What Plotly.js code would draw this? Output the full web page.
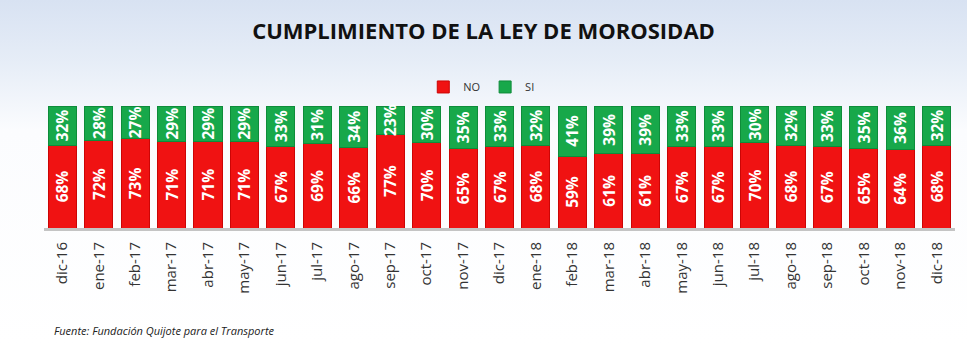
<!DOCTYPE html>
<html><head><meta charset="utf-8">
<script src="https://cdn.plot.ly/plotly-3.0.1.min.js"></script>
<style>
html,body{margin:0;padding:0;}
body{width:967px;height:344px;background:linear-gradient(to bottom,#d8e2f2 0%,#e6edf7 18%,#fbfcfe 38%,#ffffff 100%);}
#chart{width:967px;height:344px;}
</style></head><body>
<div id="chart"></div>
<script>
const months = ["dic-16","ene-17","feb-17","mar-17","abr-17","may-17","jun-17","jul-17","ago-17","sep-17","oct-17","nov-17","dic-17","ene-18","feb-18","mar-18","abr-18","may-18","jun-18","jul-18","ago-18","sep-18","oct-18","nov-18","dic-18"];
const noVals = [68,72,73,71,71,71,67,69,66,77,70,65,67,68,59,61,61,67,67,70,68,67,65,64,68];
const siVals = [32,28,27,29,29,29,33,31,34,23,30,35,33,32,41,39,39,33,33,30,32,33,35,36,32];

const txtFont = {family:"Open Sans, DejaVu Sans, sans-serif", size:15.5, color:"#ffffff", weight:700};
const traces = [
 {type:"bar", name:"NO", x:months, y:noVals, marker:{color:"#f01212", line:{color:"#cc0505", width:1}},
  text:noVals.map(v=>v+"%"), textposition:"inside", insidetextanchor:"middle", textangle:-90, constraintext:"none", textfont:txtFont, hoverinfo:"none", cliponaxis:false},
 {type:"bar", name:"SI", x:months, y:siVals, marker:{color:"#17a84a", line:{color:"#0e8c3a", width:1}},
  text:siVals.map(v=>v+"%"), textposition:"inside", insidetextanchor:"middle", textangle:-90, constraintext:"none", textfont:txtFont, hoverinfo:"none", cliponaxis:false}
];
const layout = {
 width:967, height:344, barmode:"stack", bargap:0.23,
 paper_bgcolor:"rgba(0,0,0,0)", plot_bgcolor:"rgba(0,0,0,0)",
 margin:{l:44, r:12, t:106, b:116},
 title:{text:"<b>CUMPLIMIENTO DE LA LEY DE MOROSIDAD</b>", x:0.5, xref:"container", xanchor:"center", y:0.91, yref:"container", yanchor:"middle", font:{family:"Open Sans, DejaVu Sans, sans-serif", size:22, color:"#111111"}},
 showlegend:true,
 legend:{orientation:"h", x:0.48, xanchor:"center", y:1.156, yanchor:"middle", font:{family:"Open Sans, sans-serif", size:11, color:"#333"}, itemwidth:30, traceorder:"normal"},
 xaxis:{type:"category", tickangle:-90, tickfont:{family:"Open Sans, DejaVu Sans, sans-serif", size:15, color:"#333"}, ticklabelstandoff:5, showline:true, linecolor:"#c4c4c4", linewidth:3, ticks:"", showgrid:false, zeroline:false, fixedrange:true},
 yaxis:{range:[0,100], visible:false, showgrid:false, zeroline:false, fixedrange:true},
 annotations:[{text:"<i>Fuente: Fundación Quijote para el Transporte</i>", xref:"paper", yref:"paper", x:0.0088, xanchor:"left", y:-0.844, yanchor:"middle", showarrow:false, font:{family:"Open Sans, sans-serif", size:11, color:"#222"}}]
};
Plotly.newPlot("chart", traces, layout, {displayModeBar:false, staticPlot:true});
</script>
</body></html>
